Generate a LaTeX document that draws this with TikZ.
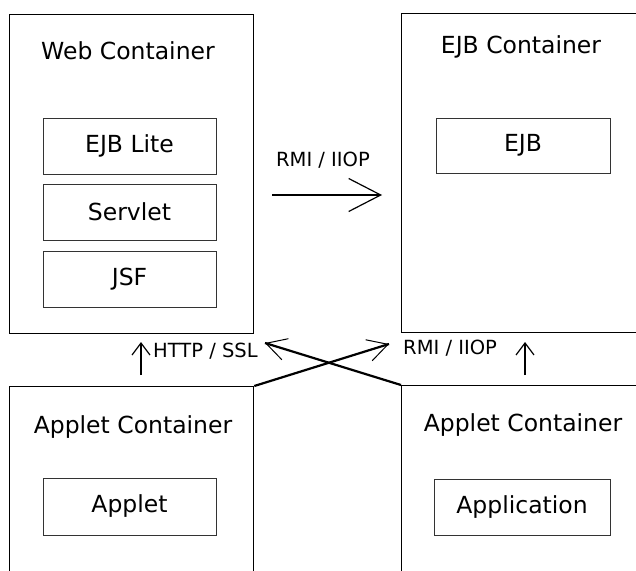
\documentclass[tikz,border=0pt]{standalone}
\usepackage{fontspec}
\setmainfont{DejaVu Sans}
\usetikzlibrary{arrows.meta,calc}
\begin{document}
\begin{tikzpicture}[x=1pt,y=-1pt,
  container/.style={draw=black, line width=1.3pt, anchor=north west, inner sep=0pt},
  inbox/.style={draw=black!80, line width=1pt, minimum width=173pt, minimum height=56pt,
    inner sep=0pt, font=\fontsize{23.5}{27}\selectfont},
  title/.style={inner sep=0pt, font=\fontsize{23.5}{27}\selectfont},
  lbl/.style={inner sep=0pt, font=\fontsize{19.5}{23}\selectfont},
  thinarrow/.style={line width=1.2pt},
  crossline/.style={line width=2.2pt},
  barbtip/.style={line width=1pt}]
\useasboundingbox (0,0) rectangle (636,570);
\clip (0,0) rectangle (636,570);
% containers
\node[container, minimum width=244pt, minimum height=319pt] (web) at (9,14) {};
\node[container, minimum width=260pt, minimum height=319pt] (ejbc) at (401,13) {};
\node[container, minimum width=244pt, minimum height=260pt] (appl) at (9,386) {};
\node[container, minimum width=260pt, minimum height=260pt] (appr) at (401,385) {};
% titles
\node[title] (webt) at (128,51) {Web Container};
\node[title] (ejbt) at (521,47) {EJB Container};
\node[title] (applt) at (133,427) {Applet Container};
\node[title] (apprt) at (523,425) {Applet Container};
% inner boxes
\node[inbox] (ejblite) at (129.5,146) {EJB Lite};
\node[inbox] (servlet) at (129.5,212) {Servlet};
\node[inbox] (jsf) at (129.5,279) {JSF};
\node[inbox, minimum width=174pt, minimum height=55pt] (ejb) at (523,145.5) {EJB};
\node[inbox, minimum height=57pt] (applet) at (129.5,506.5) {Applet};
\node[inbox, minimum width=176pt] (application) at (522,507) {Application};
% labels
\node[lbl] (rmitop) at (323,160) {RMI / IIOP};
\node[lbl, anchor=west] (http) at (153,351) {HTTP / SSL};
\node[lbl, anchor=west] (rmibot) at (403,348) {RMI / IIOP};
% connector end points
\coordinate (a1s) at (272,195);
\coordinate (a1e) at (382,195);
\coordinate (u1s) at (141,375);
\coordinate (u1e) at (141,342);
\coordinate (u2s) at (525,375);
\coordinate (u2e) at (525,342);
\coordinate (c1e) at (389,344);
\coordinate (c2e) at (265,343);
% arrows
\draw[thinarrow, -{Straight Barb[length=32pt, width=33pt]}] (a1s) -- (a1e);
\draw[thinarrow, -{Straight Barb[length=12pt, width=18pt]}] (u1s) -- (u1e);
\draw[thinarrow, -{Straight Barb[length=12pt, width=18pt]}] (u2s) -- (u2e);
\draw[crossline] (appl.north east) -- (c1e);
\draw[barbtip, -{Straight Barb[length=20pt, width=22pt]}] ($(appl.north east)!0.8!(c1e)$) -- (c1e);
\draw[crossline] (appr.north west) -- (c2e);
\draw[barbtip, -{Straight Barb[length=20pt, width=22pt]}] ($(appr.north west)!0.8!(c2e)$) -- (c2e);
\end{tikzpicture}
\end{document}
